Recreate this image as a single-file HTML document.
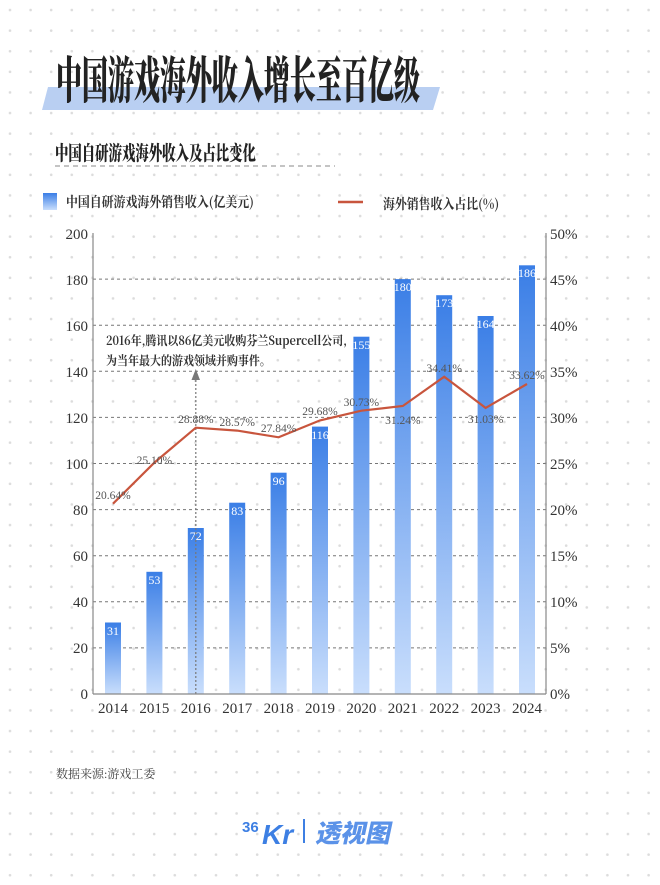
<!DOCTYPE html>
<html><head><meta charset="utf-8"><style>
html,body{margin:0;padding:0;background:#fff;}
body{width:660px;height:880px;overflow:hidden;}
</style></head><body>
<svg width="660" height="880" viewBox="0 0 660 880" xmlns="http://www.w3.org/2000/svg" font-family="'Liberation Serif','Noto Serif CJK SC',serif">
<defs>
<pattern id="dots" x="0" y="0" width="20.6" height="20.6" patternUnits="userSpaceOnUse">
<circle cx="10" cy="10" r="1.3" fill="#dcdcdc"/>
</pattern>
<linearGradient id="bg" x1="0" y1="0" x2="0" y2="1" gradientUnits="objectBoundingBox">
<stop offset="0" stop-color="#3a7ee6"/><stop offset="1" stop-color="#c9defc"/>
</linearGradient>
</defs>
<rect width="660" height="880" fill="url(#dots)"/>
<!-- title -->
<path d="M48 87 L440 87 L433 110 L42 110 Z" fill="#b9cff2"/>
<text x="0" y="0" transform="translate(56,98) scale(0.52,1)" font-family="'Noto Serif CJK SC','Noto Sans CJK SC',serif" font-weight="900" font-size="50" fill="#222">中国游戏海外收入增长至百亿级</text>
<text x="0" y="0" transform="translate(55,160) scale(0.67,1)" font-family="'Noto Serif CJK SC','Noto Sans CJK SC',serif" font-weight="900" font-size="20" fill="#222">中国自研游戏海外收入及占比变化</text>
<line x1="55" y1="166" x2="335" y2="166" stroke="#888" stroke-dasharray="5,4" stroke-width="1"/>
<!-- legend -->
<rect x="43" y="193" width="14" height="17" fill="url(#bg)"/>
<text x="0" y="0" transform="translate(66,207) scale(0.85,1)" font-family="'Noto Serif CJK SC',serif" font-weight="700" font-size="14" fill="#333">中国自研游戏海外销售收入(亿美元)</text>
<line x1="338" y1="202" x2="363" y2="202" stroke="#c8553d" stroke-width="2.5"/>
<text x="0" y="0" transform="translate(383,209) scale(0.85,1)" font-family="'Noto Serif CJK SC',serif" font-weight="700" font-size="14" fill="#333">海外销售收入占比(%)</text>
<!-- grid -->
<g stroke="#777" stroke-dasharray="3,3" stroke-width="1">
<line x1="93" y1="279.1" x2="546" y2="279.1"/><line x1="93" y1="325.2" x2="546" y2="325.2"/>
<line x1="93" y1="371.3" x2="546" y2="371.3"/><line x1="93" y1="417.4" x2="546" y2="417.4"/>
<line x1="93" y1="463.5" x2="546" y2="463.5"/><line x1="93" y1="509.6" x2="546" y2="509.6"/>
<line x1="93" y1="555.7" x2="546" y2="555.7"/><line x1="93" y1="601.8" x2="546" y2="601.8"/>
<line x1="93" y1="647.9" x2="546" y2="647.9"/>
</g>
<!-- bars -->
<g fill="url(#bg)">
<rect x="105" y="622.5" width="16" height="71.5"/>
<rect x="146.4" y="571.8" width="16" height="122.2"/>
<rect x="187.8" y="528" width="16" height="166"/>
<rect x="229.2" y="502.7" width="16" height="191.3"/>
<rect x="270.6" y="472.7" width="16" height="221.3"/>
<rect x="312" y="426.6" width="16" height="267.4"/>
<rect x="353.4" y="336.7" width="16" height="357.3"/>
<rect x="394.8" y="279.1" width="16" height="414.9"/>
<rect x="436.2" y="295.2" width="16" height="398.8"/>
<rect x="477.6" y="316" width="16" height="378"/>
<rect x="519" y="265.3" width="16" height="428.7"/>
</g>
<g fill="#fff" font-size="12" text-anchor="middle">
<text x="113" y="635">31</text><text x="154.4" y="584">53</text><text x="195.8" y="540">72</text>
<text x="237.2" y="515">83</text><text x="278.6" y="485">96</text><text x="320" y="439">116</text>
<text x="361.4" y="349">155</text><text x="402.8" y="291">180</text><text x="444.2" y="307">173</text>
<text x="485.6" y="328">164</text><text x="527" y="277">186</text>
</g>
<!-- annotation -->
<line x1="195.8" y1="694" x2="195.8" y2="378" stroke="#777" stroke-dasharray="2,2" stroke-width="1.2"/>
<path d="M191.5 380 L195.8 369 L200 380 Z" fill="#777"/>
<text x="0" y="0" transform="translate(106,345) scale(0.88,1)" font-family="'Noto Serif CJK SC',serif" font-weight="700" font-size="12.5" fill="#333">2016年,腾讯以86亿美元收购芬兰Supercell公司,</text>
<text x="0" y="0" transform="translate(106,365) scale(0.88,1)" font-family="'Noto Serif CJK SC',serif" font-weight="700" font-size="12.5" fill="#333">为当年最大的游戏领域并购事件。</text>
<!-- line -->
<polyline fill="none" stroke="#c8553d" stroke-width="2.2" points="113,503.7 154.4,462.6 195.8,427.7 237.2,430.6 278.6,437.3 320,420.4 361.4,410.7 402.8,406 444.2,376.7 485.6,407.9 527,384"/>
<g fill="#555" font-size="11.5" text-anchor="middle">
<text x="113" y="499">20.64%</text><text x="154.4" y="464">25.10%</text><text x="195.8" y="423">28.88%</text>
<text x="237.2" y="426">28.57%</text><text x="278.6" y="432">27.84%</text><text x="320" y="415">29.68%</text>
<text x="361.4" y="406">30.73%</text><text x="402.8" y="424">31.24%</text><text x="444.2" y="372">34.41%</text>
<text x="485.6" y="423">31.03%</text><text x="527" y="379">33.62%</text>
</g>
<!-- axes -->
<line x1="93" y1="233" x2="93" y2="694" stroke="#888" stroke-width="1.2"/>
<line x1="546" y1="233" x2="546" y2="694" stroke="#888" stroke-width="1.2"/>
<line x1="93" y1="694" x2="546" y2="694" stroke="#888" stroke-width="1.2"/>
<g fill="#333" font-size="15" text-anchor="end">
<text x="88" y="239">200</text><text x="88" y="285">180</text><text x="88" y="331">160</text>
<text x="88" y="377">140</text><text x="88" y="423">120</text><text x="88" y="469">100</text>
<text x="88" y="515">80</text><text x="88" y="561">60</text><text x="88" y="607">40</text>
<text x="88" y="653">20</text><text x="88" y="699">0</text>
</g>
<g fill="#333" font-size="15">
<text x="550" y="239">50%</text><text x="550" y="285">45%</text><text x="550" y="331">40%</text>
<text x="550" y="377">35%</text><text x="550" y="423">30%</text><text x="550" y="469">25%</text>
<text x="550" y="515">20%</text><text x="550" y="561">15%</text><text x="550" y="607">10%</text>
<text x="550" y="653">5%</text><text x="550" y="699">0%</text>
</g>
<g fill="#333" font-size="15" text-anchor="middle">
<text x="113" y="713">2014</text><text x="154.4" y="713">2015</text><text x="195.8" y="713">2016</text>
<text x="237.2" y="713">2017</text><text x="278.6" y="713">2018</text><text x="320" y="713">2019</text>
<text x="361.4" y="713">2020</text><text x="402.8" y="713">2021</text><text x="444.2" y="713">2022</text>
<text x="485.6" y="713">2023</text><text x="527" y="713">2024</text>
</g>
<text x="56" y="778" font-size="12" fill="#444">数据来源:游戏工委</text>
<!-- logo -->
<text x="242" y="832" font-family="'Liberation Sans',sans-serif" font-weight="700" font-size="15" fill="#3d7fe3">36</text>
<text x="262" y="844" font-family="'Liberation Sans',sans-serif" font-weight="700" font-style="italic" font-size="28" fill="#3d7fe3">Kr</text>
<rect x="303" y="819" width="2" height="24" fill="#3d7fe3"/>
<text x="0" y="0" transform="translate(315,842) skewX(-12)" font-family="'Noto Sans CJK SC',sans-serif" font-weight="900" font-size="25" fill="#5b92e8">透视图</text>
</svg>
</body></html>
